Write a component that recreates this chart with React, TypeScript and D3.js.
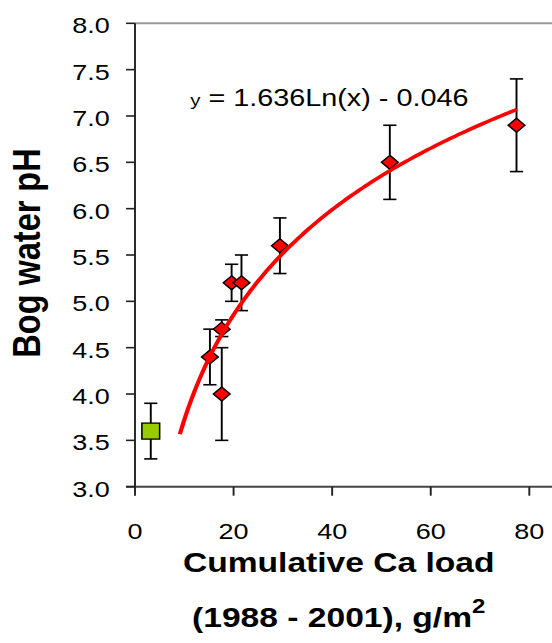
import React from "react";
import * as d3 from "d3";

// ---- data ----
const loadX = [3.2, 15.2, 17.6, 17.6, 19.6, 21.6, 29.4, 51.7, 77.4];
const phY = [3.6, 4.4, 4.7, 4.0, 5.2, 5.2, 5.6, 6.5, 6.9];
const errLow = [3.3, 4.1, 4.62, 3.5, 5.0, 4.9, 5.3, 6.1, 6.4];
const errHigh = [3.9, 4.7, 4.8, 4.5, 5.4, 5.5, 5.9, 6.9, 7.4];
const markerType = ["square", "diamond", "diamond", "diamond", "diamond", "diamond", "diamond", "diamond", "diamond"];
const yTicks = [3.0, 3.5, 4.0, 4.5, 5.0, 5.5, 6.0, 6.5, 7.0, 7.5, 8.0];
const xTicks = [0, 20, 40, 60, 80];
// logarithmic trendline y = A*ln(x) + B, drawn over the fitted range
const trendA = 1.636;
const trendB = -0.046;
const trendRange = [9.1, 77.5];

const FONT = "'Liberation Sans', Arial, Helvetica, sans-serif";
const SX = 1.2; // horizontal stretch of the original figure

export default function App() {
  const W = 552 / SX;
  const x = d3.scaleLinear().domain([0, 80]).range([112.5, 441.1]);
  const y = d3.scaleLinear().domain([3, 8]).range([486.7, 23.3]);

  const trendPts = d3.range(0, 121).map((i) => {
    const xv = trendRange[0] + ((trendRange[1] - trendRange[0]) * i) / 120;
    return [xv, trendA * Math.log(xv) + trendB] as [number, number];
  });
  const line = d3
    .line<[number, number]>()
    .x((d) => x(d[0]))
    .y((d) => y(d[1]))
    .curve(d3.curveLinear);

  const x0 = x(0);
  const yTop = y(8);
  const yBot = y(3);

  return (
    <svg
      width={552}
      height={643}
      style={{ position: "absolute", left: 0, top: 0, background: "#fff" }}
    >
      <rect x={0} y={0} width={552} height={643} fill="#fff" />
      <g transform={`scale(${SX},1)`} fontFamily={FONT}>
        {/* top border */}
        <line x1={x0} x2={W} y1={yTop} y2={yTop} stroke="#999" strokeWidth={2} />
        {/* x axis */}
        <line x1={x0 - 7.5} x2={W} y1={yBot} y2={yBot} stroke="#444" strokeWidth={2} />
        {/* y axis */}
        <line x1={x0} x2={x0} y1={yTop} y2={yBot} stroke="#222" strokeWidth={1.6} />
        {yTicks.map((t) => (
          <g key={"yt" + t}>
            <line x1={x0 - 7.5} x2={x0} y1={y(t)} y2={y(t)} stroke="#222" strokeWidth={1.6} />
            <text x={91.5} y={y(t) + 10} fontSize={22.5} textAnchor="end" fill="#000">
              {t.toFixed(1)}
            </text>
          </g>
        ))}
        {xTicks.map((t) => (
          <g key={"xt" + t}>
            <line x1={x(t)} x2={x(t)} y1={yBot} y2={yBot + 9} stroke="#222" strokeWidth={1.6} />
            <text x={x(t)} y={539.3} fontSize={22.5} textAnchor="middle" fill="#000">
              {t}
            </text>
          </g>
        ))}

        {/* error bars */}
        {loadX.map((xv, i) => (
          <g key={"eb" + i} stroke="#000" strokeWidth={1.6}>
            <line x1={x(xv)} x2={x(xv)} y1={y(errLow[i])} y2={y(errHigh[i])} />
            <line x1={x(xv) - 5.5} x2={x(xv) + 5.5} y1={y(errLow[i])} y2={y(errLow[i])} />
            <line x1={x(xv) - 5.5} x2={x(xv) + 5.5} y1={y(errHigh[i])} y2={y(errHigh[i])} />
          </g>
        ))}

        {/* markers */}
        {loadX.map((xv, i) => {
          const cx = x(xv);
          const cy = y(phY[i]);
          if (markerType[i] === "square") {
            return (
              <rect
                key={"m" + i}
                x={cx - 7.4}
                y={cy - 8}
                width={14.8}
                height={16}
                fill="#99cc00"
                stroke="#000"
                strokeWidth={1.3}
              />
            );
          }
          const r = 7;
          return (
            <path
              key={"m" + i}
              d={`M${cx},${cy - r}L${cx + r},${cy}L${cx},${cy + r}L${cx - r},${cy}Z`}
              fill="#ff0000"
              stroke="#000"
              strokeWidth={1.3}
            />
          );
        })}

        {/* trendline */}
        <path d={line(trendPts) || ""} fill="none" stroke="#ff0000" strokeWidth={3.5} />

        {/* equation */}
        <text x={158.5} y={106.5} fill="#000">
          <tspan fontSize={17}>y</tspan>
          <tspan fontSize={24}>{" = 1.636Ln(x) - 0.046"}</tspan>
        </text>

        {/* axis titles */}
        <text x={282.3} y={572} fontSize={28} fontWeight="bold" textAnchor="middle" fill="#000">
          Cumulative Ca load
        </text>
        <text x={282.3} y={626.7} fontSize={28} fontWeight="bold" textAnchor="middle" fill="#000">
          (1988 - 2001), g/m
          <tspan fontSize={20} dy={-14}>2</tspan>
        </text>
        <text
          transform={`translate(33.5,253) rotate(-90)`}
          fontSize={32.5}
          fontWeight="bold"
          textAnchor="middle"
          fill="#000"
        >
          Bog water pH
        </text>
      </g>
    </svg>
  );
}
